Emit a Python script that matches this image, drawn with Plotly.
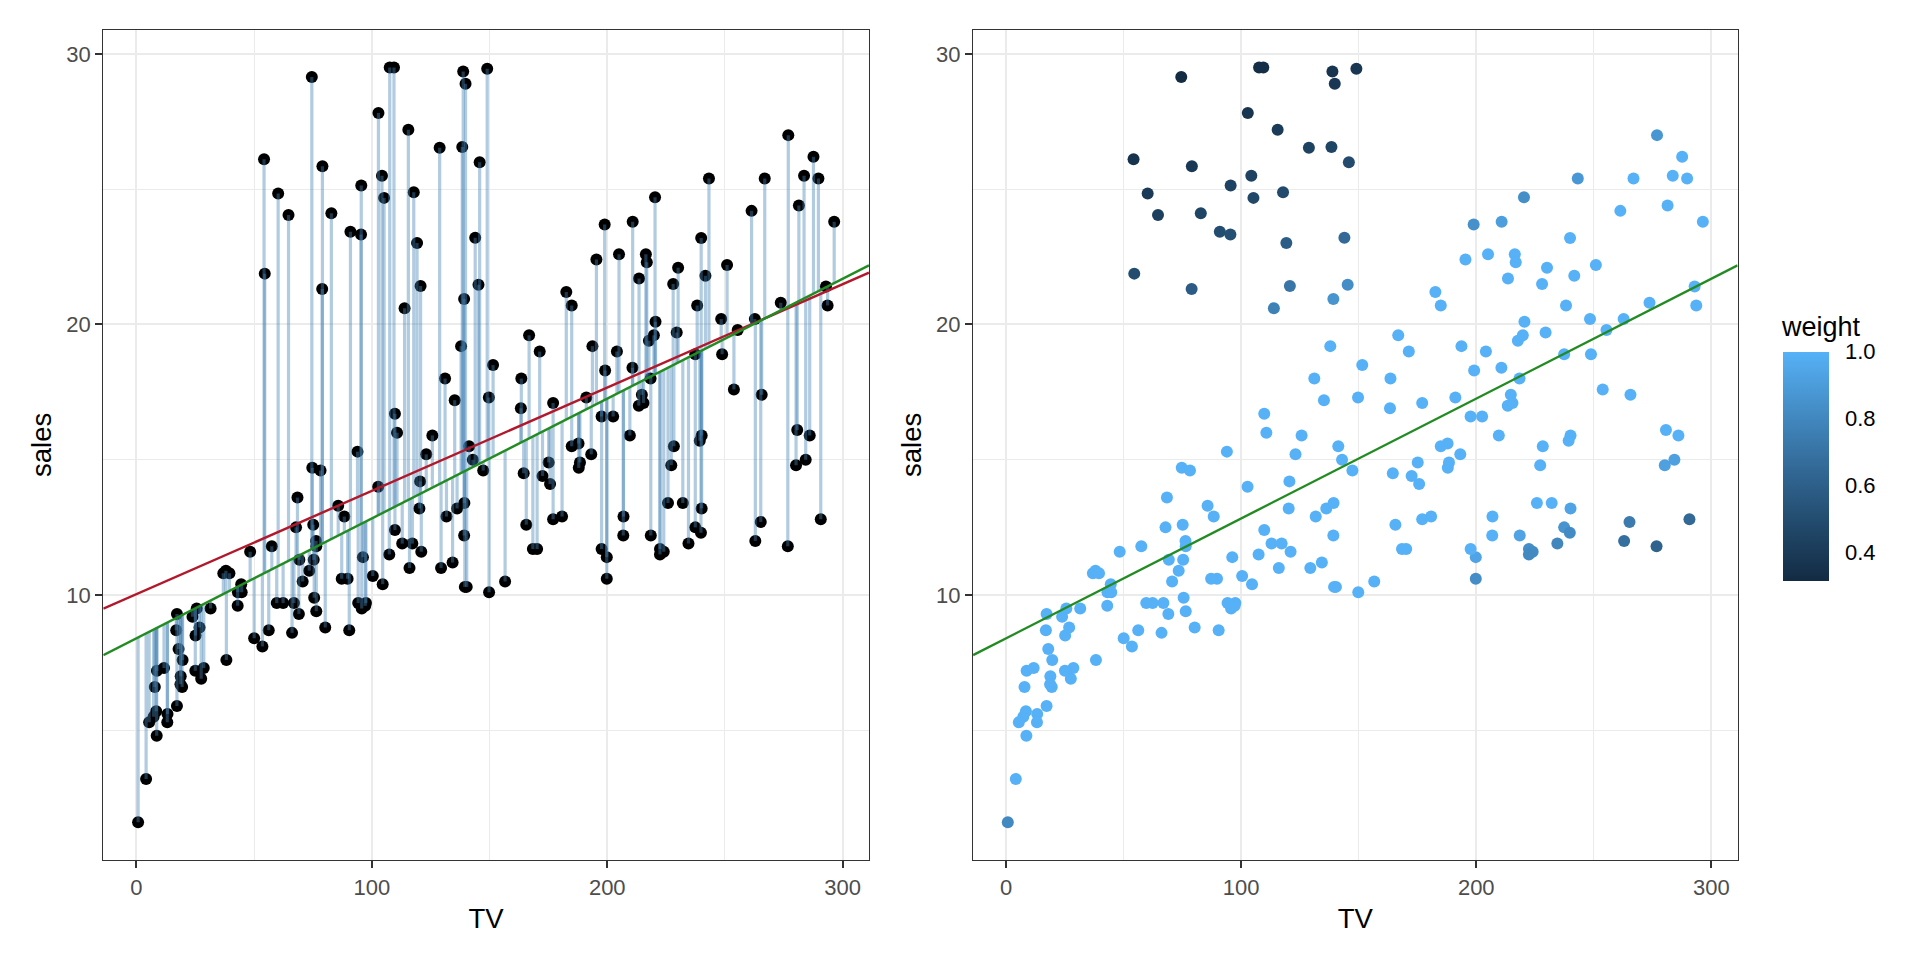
import plotly.graph_objects as go

# Advertising data (TV spend vs sales)
tv = [230.1, 44.5, 17.2, 151.5, 180.8, 8.7, 57.5, 120.2, 8.6, 199.8,
      66.1, 214.7, 23.8, 97.5, 204.1, 195.4, 67.8, 281.4, 69.2, 147.3,
      218.4, 237.4, 13.2, 228.3, 62.3, 262.9, 142.9, 240.1, 248.8, 70.6,
      292.9, 112.9, 97.2, 265.6, 95.7, 290.7, 266.9, 74.7, 43.1, 228.0,
      202.5, 177.0, 293.6, 206.9, 25.1, 175.1, 89.7, 239.9, 227.2, 66.9,
      199.8, 100.4, 216.4, 182.6, 262.7, 198.9, 7.3, 136.2, 210.8, 210.7,
      53.5, 261.3, 239.3, 102.7, 131.1, 69.0, 31.5, 139.3, 237.4, 216.8,
      199.1, 109.8, 26.8, 129.4, 213.4, 16.9, 27.5, 120.5, 5.4, 116.0,
      76.4, 239.8, 75.3, 68.4, 213.5, 193.2, 76.3, 110.7, 88.3, 109.8,
      134.3, 28.6, 217.7, 250.9, 107.4, 163.3, 197.6, 184.9, 289.7, 135.2,
      222.4, 296.4, 280.2, 187.9, 238.2, 137.9, 25.0, 90.4, 13.1, 255.4,
      225.8, 241.7, 175.7, 209.6, 78.2, 75.1, 139.2, 76.4, 125.7, 19.4,
      141.3, 18.8, 224.0, 123.1, 229.5, 87.2, 7.8, 80.2, 220.3, 59.6,
      0.7, 265.2, 8.4, 219.8, 36.9, 48.3, 25.6, 273.7, 43.0, 184.9,
      73.4, 193.7, 220.5, 104.6, 96.2, 140.3, 240.1, 243.2, 38.0, 44.7,
      280.7, 121.0, 197.6, 171.3, 187.8, 4.1, 93.9, 149.8, 11.7, 131.7,
      172.5, 85.7, 188.4, 163.5, 117.2, 234.5, 17.9, 206.8, 215.4, 284.3,
      50.0, 164.5, 19.6, 168.4, 222.4, 276.9, 248.4, 170.2, 276.7, 165.6,
      156.6, 218.5, 56.2, 287.6, 253.8, 205.0, 139.5, 191.1, 286.0, 18.7,
      39.5, 75.5, 17.2, 166.8, 149.7, 38.2, 94.2, 177.0, 283.6, 232.1]
sales = [22.1, 10.4, 9.3, 18.5, 12.9, 7.2, 11.8, 13.2, 4.8, 10.6,
         8.6, 17.4, 9.2, 9.7, 19.0, 22.4, 12.5, 24.4, 11.3, 14.6,
         18.0, 12.5, 5.6, 15.5, 9.7, 12.0, 15.0, 15.9, 18.9, 10.5,
         21.4, 11.9, 9.6, 17.4, 9.5, 12.8, 25.4, 14.7, 10.1, 21.5,
         16.6, 17.1, 20.7, 12.9, 8.5, 14.9, 10.6, 23.2, 14.8, 9.7,
         11.4, 10.7, 22.6, 21.2, 20.2, 23.7, 5.5, 13.2, 23.8, 18.4,
         8.1, 24.2, 15.7, 14.0, 18.0, 9.3, 9.5, 13.4, 18.9, 22.3,
         18.3, 12.4, 8.8, 11.0, 17.0, 8.7, 6.9, 14.2, 5.3, 11.0,
         11.8, 12.3, 11.3, 13.6, 21.7, 15.2, 12.0, 16.0, 12.9, 16.7,
         11.2, 7.3, 19.4, 22.2, 11.5, 16.9, 11.7, 15.5, 25.4, 17.2,
         11.7, 23.8, 14.8, 14.7, 20.7, 19.2, 7.2, 8.7, 5.3, 19.8,
         13.4, 21.8, 14.1, 15.9, 14.6, 12.6, 12.2, 9.4, 15.9, 6.6,
         15.5, 7.0, 11.6, 15.2, 19.7, 10.6, 6.6, 8.8, 24.7, 9.7,
         1.6, 12.7, 5.7, 19.6, 10.8, 11.6, 9.5, 20.8, 9.6, 20.7,
         10.9, 19.2, 20.1, 10.4, 11.4, 10.3, 13.2, 25.4, 10.9, 10.1,
         16.1, 11.6, 16.6, 19.0, 15.6, 3.2, 15.3, 10.1, 7.3, 12.9,
         14.4, 13.3, 14.9, 18.0, 11.9, 11.9, 8.0, 12.2, 17.1, 15.0,
         8.4, 14.5, 7.6, 11.7, 11.5, 27.0, 20.2, 11.7, 11.8, 12.6,
         10.5, 12.2, 8.7, 26.2, 17.6, 22.6, 10.3, 17.3, 15.9, 6.7,
         10.8, 9.9, 5.9, 19.6, 17.3, 7.6, 9.7, 12.8, 25.5, 13.4]
weight = [1.0, 1.0, 1.0, 1.0, 1.0, 1.0, 1.0, 1.0, 1.0, 0.83,
          1.0, 1.0, 1.0, 1.0, 1.0, 1.0, 1.0, 1.0, 1.0, 1.0,
          1.0, 0.86, 1.0, 1.0, 1.0, 0.68, 1.0, 1.0, 1.0, 1.0,
          1.0, 1.0, 1.0, 1.0, 1.0, 0.65, 1.0, 1.0, 1.0, 1.0,
          1.0, 1.0, 1.0, 1.0, 1.0, 1.0, 1.0, 1.0, 1.0, 1.0,
          0.94, 1.0, 1.0, 1.0, 1.0, 0.85, 1.0, 1.0, 0.91, 1.0,
          1.0, 1.0, 1.0, 1.0, 1.0, 1.0, 1.0, 1.0, 1.0, 1.0,
          1.0, 1.0, 1.0, 1.0, 1.0, 1.0, 1.0, 1.0, 1.0, 1.0,
          1.0, 0.82, 1.0, 1.0, 1.0, 1.0, 1.0, 1.0, 1.0, 1.0,
          1.0, 1.0, 1.0, 1.0, 1.0, 1.0, 1.0, 1.0, 1.0, 1.0,
          0.84, 1.0, 0.92, 1.0, 1.0, 1.0, 1.0, 1.0, 1.0, 1.0,
          1.0, 1.0, 1.0, 1.0, 1.0, 1.0, 1.0, 1.0, 1.0, 1.0,
          1.0, 1.0, 0.82, 1.0, 1.0, 1.0, 1.0, 1.0, 0.84, 1.0,
          0.81, 0.74, 1.0, 1.0, 1.0, 1.0, 1.0, 1.0, 1.0, 1.0,
          1.0, 1.0, 1.0, 1.0, 1.0, 1.0, 0.94, 0.88, 1.0, 1.0,
          1.0, 1.0, 1.0, 1.0, 1.0, 1.0, 1.0, 1.0, 1.0, 1.0,
          1.0, 1.0, 1.0, 1.0, 1.0, 0.80, 1.0, 1.0, 1.0, 0.92,
          1.0, 1.0, 1.0, 1.0, 0.81, 0.87, 1.0, 1.0, 0.62, 1.0,
          1.0, 0.94, 1.0, 1.0, 1.0, 1.0, 1.0, 1.0, 1.0, 1.0,
          1.0, 1.0, 1.0, 1.0, 1.0, 1.0, 1.0, 1.0, 1.0, 1.0]

# the added outlying points (TV 50-150, high sales)
tv_out = [74.5, 107.6, 109.4, 138.8, 139.8, 149.0, 102.8, 115.5, 128.8, 138.4,
          145.8, 54.2, 79.0, 104.3, 95.5, 117.8, 105.2, 60.2, 64.6, 82.8,
          90.9, 95.4, 119.2, 143.9, 54.5, 78.9, 120.7, 145.3, 113.9, 139.2]
sales_out = [29.15, 29.5, 29.5, 29.35, 28.9, 29.45, 27.82, 27.2, 26.53, 26.56,
             26.0, 26.11, 25.85, 25.5, 25.14, 24.89, 24.68, 24.84, 24.05, 24.11,
             23.43, 23.33, 23.01, 23.21, 21.88, 21.31, 21.42, 21.47, 20.6, 20.94]
weight_out = [0.315, 0.335, 0.337, 0.371, 0.384, 0.38, 0.369, 0.401, 0.442, 0.456,
              0.493, 0.359, 0.394, 0.441, 0.44, 0.488, 0.473, 0.40, 0.43, 0.457,
              0.50, 0.514, 0.59, 0.65, 0.497, 0.585, 0.717, 0.83, 0.77, 0.86]

# fitted lines: ordinary least squares (red) and weighted/robust fit (green)
ols_coef = (10.03, 0.0382)
robust_coef = (8.40, 0.0443)

x_all = tv + tv_out
y_all = sales + sales_out
w_all = weight + weight_out

FONT = "Liberation Sans, Arial, Helvetica, sans-serif"
GRID = "#EBEBEB"
INK = "#333333"
STEEL = "rgba(70,130,180,0.42)"
RED = "#B2182B"
GREEN = "#228B22"
GGBLUES = [[0.0, "#132B43"], [0.25, "#224A6C"], [0.5, "#336A98"],
           [0.75, "#448DC6"], [1.0, "#56B1F7"]]


def expand(vals, mult=0.05):
    lo, hi = min(vals), max(vals)
    pad = (hi - lo) * mult
    return [lo - pad, hi + pad]


xr = expand(x_all)
yr = expand(y_all)

fig = go.Figure()

# ---- left panel: residual segments to robust fit, plus both lines
fig.add_trace(go.Scatter(
    x=x_all, y=y_all, mode="markers",
    marker=dict(size=12, color="black"),
    showlegend=False, hoverinfo="skip", xaxis="x", yaxis="y",
))
seg_x, seg_y = [], []
a, b = robust_coef
for xi, yi in zip(x_all, y_all):
    seg_x += [xi, xi, None]
    seg_y += [yi, a + b * xi, None]
fig.add_trace(go.Scatter(
    x=seg_x, y=seg_y, mode="lines",
    line=dict(color=STEEL, width=3.2),
    showlegend=False, hoverinfo="skip", xaxis="x", yaxis="y",
))
for (ia, sl), col in ((ols_coef, RED), (robust_coef, GREEN)):
    fig.add_trace(go.Scatter(
        x=xr, y=[ia + sl * v for v in xr], mode="lines",
        line=dict(color=col, width=2.4),
        showlegend=False, hoverinfo="skip", xaxis="x", yaxis="y",
    ))

# ---- right panel: points coloured by weight, robust fit
fig.add_trace(go.Scatter(
    x=x_all, y=y_all, mode="markers",
    marker=dict(
        size=12, color=w_all, colorscale=GGBLUES,
        cmin=min(w_all), cmax=1.0, showscale=True,
        colorbar=dict(
            thickness=46, len=229, lenmode="pixels",
            x=0.9285, xanchor="left", y=0.5143, yanchor="middle",
            xpad=0, ypad=0, outlinewidth=0,
            tickvals=[0.4, 0.6, 0.8, 1.0], ticktext=["0.4", "0.6", "0.8", "1.0"],
            ticks="outside", ticklen=12, tickcolor="rgba(0,0,0,0)",
            tickfont=dict(size=22, color="black", family=FONT),
        ),
    ),
    showlegend=False, hoverinfo="skip", xaxis="x2", yaxis="y2",
))
fig.add_trace(go.Scatter(
    x=xr, y=[a + b * v for v in xr], mode="lines",
    line=dict(color=GREEN, width=2.4),
    showlegend=False, hoverinfo="skip", xaxis="x2", yaxis="y2",
))

xax = dict(
    range=xr, tickvals=[0, 100, 200, 300], showgrid=True,
    gridcolor=GRID, gridwidth=2, zeroline=False,
    showline=True, mirror=True, linecolor=INK, linewidth=1.3,
    ticks="outside", ticklen=7, tickwidth=2, tickcolor=INK,
    tickfont=dict(size=22, color="#4D4D4D", family=FONT),
    minor=dict(tick0=0, dtick=50, showgrid=True, gridcolor=GRID, gridwidth=1.1),
    title=dict(text="TV", standoff=10, font=dict(size=27.5, color="black", family=FONT)),
)
yax = dict(
    range=yr, tickvals=[10, 20, 30], showgrid=True,
    gridcolor=GRID, gridwidth=2, zeroline=False,
    showline=True, mirror=True, linecolor=INK, linewidth=1.3,
    ticks="outside", ticklen=7, tickwidth=2, tickcolor=INK,
    tickfont=dict(size=22, color="#4D4D4D", family=FONT),
    minor=dict(tick0=0, dtick=5, showgrid=True, gridcolor=GRID, gridwidth=1.1),
    title=dict(text="sales", standoff=6, font=dict(size=27.5, color="black", family=FONT)),
)

fig.update_layout(
    width=1920, height=960, autosize=False,
    margin=dict(l=0, r=0, t=0, b=0),
    paper_bgcolor="white", plot_bgcolor="white",
    font=dict(family=FONT),
    xaxis=dict(xax, domain=[0.0538, 0.4526], anchor="y"),
    yaxis=dict(yax, domain=[0.1042, 0.969], anchor="x"),
    xaxis2=dict(xax, domain=[0.5068, 0.905], anchor="y2"),
    yaxis2=dict(yax, domain=[0.1042, 0.969], anchor="x2"),
    annotations=[dict(
        text="weight", xref="paper", yref="paper", x=0.9268, y=0.6589,
        xanchor="left", yanchor="middle", showarrow=False,
        font=dict(size=27, color="black", family=FONT),
    )],
)

fig.write_html("out.html", config={"displayModeBar": False},
               post_script="document.body.style.margin='0';")
